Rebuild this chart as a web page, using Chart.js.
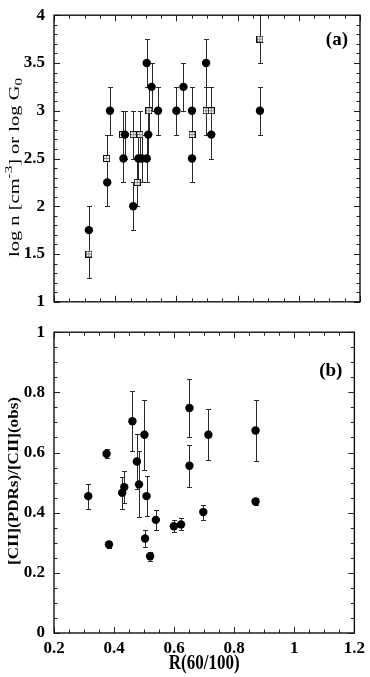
<!DOCTYPE html>
<html><head><meta charset="utf-8">
<script src="https://cdn.jsdelivr.net/npm/chart.js@4.4.0/dist/chart.umd.min.js"></script>
<style>
html,body{margin:0;padding:0;background:#fff;width:370px;height:677px;overflow:hidden;position:relative}
#wa{position:absolute;left:0;top:-4px;width:370px;height:325px}
#wb{position:absolute;left:0;top:313px;width:370px;height:364px}
</style></head><body>
<div id="wa"><canvas id="ca"></canvas></div>
<div id="wb"><canvas id="cb"></canvas></div>
<script>
// ---- data ----
// panel (a): filled circles (log n) and crossed squares (log G0)
const densR   = [0.314,0.374,0.383,0.427,0.432,0.459,0.476,0.487,0.503,0.503,0.508,0.519,0.540,0.600,0.623,0.651,0.651,0.697,0.714,0.873];
const densLog = [1.75,2.25,3.0,2.5,2.75,2.0,2.5,2.5,2.5,3.5,2.75,3.25,3.0,3.0,3.25,3.0,2.5,3.5,2.75,3.0];
const densErr = [0.25,0.25,0.25,0.25,0.25,0.25,0.25,0.25,0.25,0.25,0.25,0.25,0.25,0.25,0.25,0.25,0.25,0.25,0.25,0.25];
const fieldR   = [0.314,0.372,0.424,0.459,0.481,0.472,0.510,0.651,0.697,0.714,0.873];
const fieldLog = [1.5,2.5,2.75,2.75,2.75,2.25,3.0,2.75,3.0,3.0,3.75];
const fieldErr = [0.25,0.25,0.25,0.25,0.25,0.25,0.25,0.25,0.25,0.25,0.25];
// panel (b)
const fracR   = [0.314,0.375,0.383,0.427,0.434,0.461,0.476,0.483,0.501,0.503,0.508,0.520,0.539,0.599,0.623,0.651,0.651,0.697,0.714,0.871,0.871];
const fracVal = [0.455,0.596,0.294,0.466,0.485,0.704,0.570,0.494,0.659,0.314,0.455,0.255,0.376,0.355,0.361,0.748,0.556,0.402,0.659,0.673,0.437];
const fracErr = [0.042,0.015,0.012,0.054,0.054,0.100,0.090,0.110,0.117,0.027,0.066,0.015,0.032,0.020,0.020,0.098,0.070,0.025,0.085,0.102,0.013];
// ticks
const xTickVals   = [0.2,0.4,0.6,0.8,1,1.2];
const xTickLabels = ['0.2','0.4','0.6','0.8','1','1.2'];
const yTickValsA   = [1,1.5,2,2.5,3,3.5,4];
const yTickLabelsA = ['1','1.5','2','2.5','3','3.5','4'];
const yTickValsB   = [0,0.2,0.4,0.6,0.8,1];
const yTickLabelsB = ['0','0.2','0.4','0.6','0.8','1'];
// texts
const panelTags = ['(a)','(b)'];
const yTitleA = [['log n [cm',0],['-3',1],['] or log G',0],['0',-1]];
const yTitleB = [['[CII](PDRs)/[CII](obs)',0]];
const xTitle = 'R(60/100)';

const SERIF = '"Liberation Serif", "Times New Roman", serif';

function pts(xs, ys){ return xs.map((x,i)=>({x:x, y:ys[i]})); }

function makeSquare(){
  const c=document.createElement('canvas'); c.width=7; c.height=7;
  const g=c.getContext('2d');
  g.fillStyle='#fff'; g.fillRect(0,0,7,7);
  g.strokeStyle='#111'; g.lineWidth=1; g.strokeRect(0.5,0.5,6,6);
  g.strokeStyle='#888'; g.beginPath(); g.moveTo(3.5,1); g.lineTo(3.5,6); g.moveTo(1,3.5); g.lineTo(6,3.5); g.stroke();
  return c;
}

const errPlugin = {
  id:'errbars',
  beforeDatasetsDraw(chart){
    const ctx=chart.ctx, xs=chart.scales.x, ys=chart.scales.y, a=chart.chartArea;
    ctx.save();
    ctx.beginPath(); ctx.rect(a.left,a.top-1,a.right-a.left,a.bottom-a.top+2); ctx.clip();
    chart.data.datasets.forEach(ds=>{
      if(!ds.errors) return;
      ctx.strokeStyle='#2a2a2a'; ctx.lineWidth=1;
      ctx.beginPath();
      ds.data.forEach((p,i)=>{
        const e=ds.errors[i];
        const x=Math.round(xs.getPixelForValue(p.x))+0.5;
        const y1=Math.round(ys.getPixelForValue(p.y-e))+0.5;
        const y2=Math.round(ys.getPixelForValue(p.y+e))+0.5;
        ctx.moveTo(x,y1); ctx.lineTo(x,y2);
        ctx.moveTo(x-2.5,y1); ctx.lineTo(x+2.5,y1);
        ctx.moveTo(x-2.5,y2); ctx.lineTo(x+2.5,y2);
      });
      ctx.stroke();
    });
    ctx.restore();
  }
};

function isMult(v, step){ const r=v/step; return Math.abs(r-Math.round(r))<1e-6; }

const decorPlugin = {
  id:'decor',
  afterDraw(chart, args, o){
    const ctx=chart.ctx, a=chart.chartArea, xs=chart.scales.x, ys=chart.scales.y;
    ctx.save();
    // ticks inward on all sides
    ctx.strokeStyle='#222'; ctx.lineWidth=1;
    ctx.beginPath();
    const xn=Math.round((xs.max-xs.min)/o.xMinor);
    for(let i=0;i<=xn;i++){
      const v=xs.min+i*o.xMinor;
      const L=isMult(v-xs.min,o.xMajor)?6:3.5;
      const px=Math.round(xs.getPixelForValue(v))+0.5;
      ctx.moveTo(px,a.bottom); ctx.lineTo(px,a.bottom-L);
      ctx.moveTo(px,a.top); ctx.lineTo(px,a.top+L);
    }
    const yn=Math.round((ys.max-ys.min)/o.yMinor);
    for(let i=0;i<=yn;i++){
      const v=ys.min+i*o.yMinor;
      const L=isMult(v-ys.min,o.yMajor)?6:3.5;
      const py=Math.round(ys.getPixelForValue(v))+0.5;
      ctx.moveTo(a.left,py); ctx.lineTo(a.left+L,py);
      ctx.moveTo(a.right,py); ctx.lineTo(a.right-L,py);
    }
    ctx.stroke();
    // frame
    ctx.strokeStyle='#111'; ctx.lineWidth=1.4;
    ctx.strokeRect(a.left, a.top, a.right-a.left, a.bottom-a.top);
    // panel tag
    ctx.fillStyle='#000';
    ctx.font='bold 19px '+SERIF;
    ctx.textAlign='right'; ctx.textBaseline='middle';
    ctx.fillText(o.tag, a.right-12, a.top+o.tagDy);
    // y title (rotated, stretched along its length)
    const segs=o.yTitle;
    const base=o.yTitleSize;
    const fontOf=(lvl)=> (o.yTitleBold?'bold ':'')+(lvl===0?base:Math.round(base*0.7))+'px '+SERIF;
    let total=0;
    segs.forEach(s=>{ ctx.font=fontOf(s[1]); total+=ctx.measureText(s[0]).width; });
    const sx=o.yTitleLen/total;
    ctx.translate(o.yTitleX, o.yTitleCy);
    ctx.rotate(-Math.PI/2);
    ctx.scale(sx,1);
    ctx.textAlign='left'; ctx.textBaseline='alphabetic';
    let cx=-total/2;
    segs.forEach(s=>{
      ctx.font=fontOf(s[1]);
      const dy = s[1]===1 ? -base*0.42 : (s[1]===-1 ? base*0.22 : 0);
      ctx.fillText(s[0], cx, dy);
      cx+=ctx.measureText(s[0]).width;
    });
    ctx.setTransform(1,0,0,1,0,0);
    if(o.xTitle){
      ctx.font='bold 17px '+SERIF;
      ctx.textAlign='center'; ctx.textBaseline='middle';
      ctx.translate((a.left+a.right)/2, o.xTitleY);
      ctx.scale(1,1.2);
      ctx.fillText(o.xTitle,0,0);
    }
    ctx.restore();
  }
};

const tickFont={family:SERIF,size:17,weight:'bold'};

function yScale(min,max,vals,labels){
  return {
    type:'linear', min:min, max:max,
    afterFit(s){ s.width=54; },
    afterBuildTicks(s){ s.ticks=vals.map(v=>({value:v})); },
    grid:{display:false, drawTicks:false}, border:{display:false},
    ticks:{padding:9, color:'#000', font:tickFont, callback:(v,i)=>labels[i]}
  };
}

Chart.defaults.font.family=SERIF;

new Chart(document.getElementById('ca'), {
  type:'scatter',
  data:{datasets:[
    {label:'log n', data:pts(densR,densLog), errors:densErr, pointStyle:'circle', pointRadius:4.2, pointBorderWidth:0, backgroundColor:'#000', borderColor:'#000'},
    {label:'log G0', data:pts(fieldR,fieldLog), errors:fieldErr, pointStyle:makeSquare(), pointRadius:4, backgroundColor:'#fff', borderColor:'#000'}
  ]},
  options:{
    animation:false, responsive:true, maintainAspectRatio:false, events:[],
    layout:{padding:{top:10,bottom:10,left:0,right:10}},
    plugins:{legend:{display:false}, tooltip:{enabled:false},
      decor:{xMinor:0.05,xMajor:0.2,yMinor:0.1,yMajor:0.5,tag:panelTags[0],tagDy:25,
        yTitle:yTitleA,yTitleSize:15,yTitleBold:false,yTitleLen:179,yTitleX:18.5,yTitleCy:171.5}},
    scales:{
      x:{type:'linear',min:0.2,max:1.2,display:false},
      y:yScale(1,4,yTickValsA,yTickLabelsA)
    }
  },
  plugins:[errPlugin,decorPlugin]
});

new Chart(document.getElementById('cb'), {
  type:'scatter',
  data:{datasets:[
    {label:'ratio', data:pts(fracR,fracVal), errors:fracErr, pointStyle:'circle', pointRadius:4.2, pointBorderWidth:0, backgroundColor:'#000', borderColor:'#000'}
  ]},
  options:{
    animation:false, responsive:true, maintainAspectRatio:false, events:[],
    layout:{padding:{top:12,bottom:0,left:0,right:10}},
    plugins:{legend:{display:false}, tooltip:{enabled:false},
      decor:{xMinor:0.05,xMajor:0.2,yMinor:0.05,yMajor:0.2,tag:panelTags[1],tagDy:39,
        yTitle:yTitleB,yTitleSize:14,yTitleBold:true,yTitleLen:168,yTitleX:18,yTitleCy:168,
        xTitle:xTitle,xTitleY:351}},
    scales:{
      x:{type:'linear',min:0.2,max:1.2,
        afterFit(s){ s.height=44; },
        afterBuildTicks(s){ s.ticks=xTickVals.map(v=>({value:v})); },
        grid:{display:false,drawTicks:false}, border:{display:false},
        ticks:{padding:5,color:'#000',font:tickFont,maxRotation:0,autoSkip:false,callback:(v,i)=>xTickLabels[i]}},
      y:yScale(0,1,yTickValsB,yTickLabelsB)
    }
  },
  plugins:[errPlugin,decorPlugin]
});
</script>
</body></html>
